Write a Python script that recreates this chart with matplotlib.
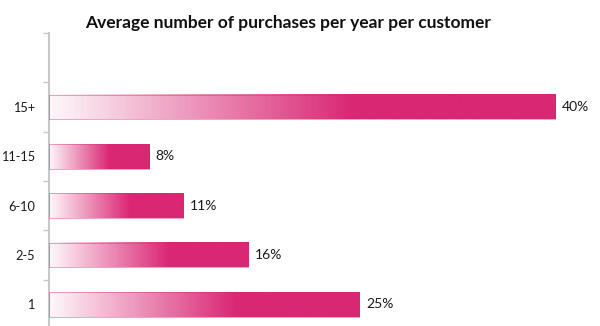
import matplotlib.pyplot as plt
import numpy as np

TITLE = 'Average number of purchases per year per customer'
CATEGORIES = ['1', '2-5', '6-10', '11-15', '15+']
VALUES = [24.8, 15.9, 10.7, 8.0, 40.4]
LABELS = ['25%', '16%', '11%', '8%', '40%']

PINK = np.array([218, 39, 116]) / 255
AXIS_GREY = '#C8C8C8'
FONT = ['Lato', 'DejaVu Sans']

plt.rcParams['font.family'] = FONT

fig = plt.figure(figsize=(6, 3.26), dpi=100)
ax = fig.add_axes([0.081, -0.009, 0.919, 0.908])

# gradient: white at the left end, full colour from 60% of the bar length on
n = 256
t = np.clip(np.linspace(0, 1, n) / 0.6, 0, 1)
grad = (1 - t)[:, None] * np.array([1.0, 1.0, 1.0]) + t[:, None] * PINK
grad = (grad * 0.97 + 0.03 * PINK)[None, :, :]

bar_h = 0.5
for i, (v, lab) in enumerate(zip(VALUES, LABELS)):
    y0, y1 = i - bar_h / 2, i + bar_h / 2
    ax.imshow(grad, extent=[0, v, y0, y1], aspect='auto', zorder=2,
              interpolation='bilinear')
    ax.add_patch(plt.Rectangle((0, y0), v, bar_h, fill=False,
                               edgecolor=(0.85, 0.15, 0.45, 0.5), lw=0.6, zorder=3))
    ax.text(v + 0.55, i, lab, va='center', ha='left', fontsize=10, color='#1a1a1a')

ax.set_xlim(0, 44)
ax.set_ylim(-0.5, 5.5)

for s in ['top', 'right', 'bottom']:
    ax.spines[s].set_visible(False)
ax.spines['left'].set_color(AXIS_GREY)
ax.spines['left'].set_linewidth(1.5)

ax.set_xticks([])
ax.set_yticks(range(len(CATEGORIES)))
ax.set_yticklabels(CATEGORIES, fontsize=9.2, color='#1a1a1a')
ax.tick_params(axis='y', which='major', length=0, pad=10)
ax.set_yticks(np.arange(-0.5, 6, 1), minor=True)
ax.tick_params(axis='y', which='minor', length=4, color=AXIS_GREY, width=1)

fig.text(0.48, 0.914, TITLE, ha='center', va='baseline', fontsize=12.5,
         fontweight='bold', color='#111111')

fig.savefig('out.png', dpi=100)
